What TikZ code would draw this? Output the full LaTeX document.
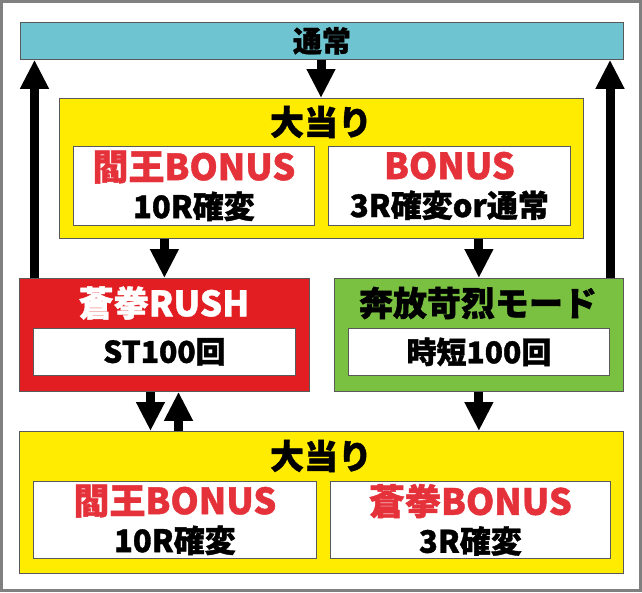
\documentclass[tikz,border=0pt]{standalone}
\usepackage{fontspec}
\setmainfont{Noto Sans CJK JP}[BoldFeatures={FakeBold=1.2}]
\usetikzlibrary{arrows.meta}

\definecolor{barblue}{RGB}{110,196,208}
\definecolor{hityellow}{RGB}{255,236,0}
\definecolor{rushred}{RGB}{226,30,35}
\definecolor{modegreen}{RGB}{122,193,66}
\definecolor{bonusred}{RGB}{229,50,58}

\begin{document}
\begin{tikzpicture}[x=1pt, y=-1pt,
  box/.style={draw=black!65, line width=0.8pt, inner sep=0pt, anchor=north west},
  inbox/.style={box, fill=white, align=center, font={\bfseries\fontsize{31}{38}\selectfont}},
  title/.style={inner sep=0pt, font={\bfseries\fontsize{34}{40}\selectfont}},
  arr/.style={line width=9pt, -{Triangle[width=27pt,length=29pt]}}]
  \useasboundingbox (0,0) rectangle (642,592);
  \draw[gray, line width=3pt] (1.5,1.5) rectangle (640.5,590.5);

  % 通常
  \node[box, fill=barblue, minimum width=603pt, minimum height=37pt,
        font={\bfseries\fontsize{29}{34}\selectfont}] (normal) at (20,22) {通常};

  % 上の大当り
  \node[box, fill=hityellow, minimum width=524pt, minimum height=140pt] (hitA) at (59,98) {};
  \node[title] (hitAlbl) at (321,122) {大当り};
  \node[inbox, minimum width=241pt, minimum height=79pt] (hitAl) at (73,146)
    {{\color{bonusred}\fontsize{36}{38}\selectfont 閻王BONUS}\\10R確変};
  \node[inbox, minimum width=242pt, minimum height=79pt] (hitAr) at (328,146)
    {{\color{bonusred}\fontsize{36}{38}\selectfont BONUS}\\3R確変or通常};

  % 蒼拳RUSH / 奔放苛烈モード
  \node[box, fill=rushred, minimum width=290pt, minimum height=113pt] (rush) at (19,278) {};
  \node[title, text=white, font={\bfseries\fontsize{35}{40}\selectfont}] (rushlbl) at (164,303) {蒼拳RUSH};
  \node[inbox, minimum width=262pt, minimum height=47pt,
        font={\bfseries\fontsize{30}{32}\selectfont}] (rushst) at (33,328) {ST100回};
  \node[box, fill=modegreen, minimum width=289pt, minimum height=113pt] (mode) at (334,278) {};
  \node[title] (modelbl) at (478,303) {奔放苛烈モード};
  \node[inbox, minimum width=261pt, minimum height=47pt,
        font={\bfseries\fontsize{30}{32}\selectfont}] (modejt) at (348,328) {時短100回};

  % 下の大当り
  \node[box, fill=hityellow, minimum width=604pt, minimum height=142pt] (hitB) at (19,431) {};
  \node[title] (hitBlbl) at (321,456) {大当り};
  \node[inbox, minimum width=283pt, minimum height=77pt] (hitBl) at (33,481)
    {{\color{bonusred}\fontsize{36}{38}\selectfont 閻王BONUS}\\10R確変};
  \node[inbox, minimum width=280pt, minimum height=77pt] (hitBr) at (330,481)
    {{\color{bonusred}\fontsize{36}{38}\selectfont 蒼拳BONUS}\\3R確変};

  \coordinate (leftup) at (34.5,0);
  \coordinate (rightup) at (610,0);
  \coordinate (rushdown) at (150.5,0);
  \coordinate (rushup) at (178.5,0);

  \draw[arr] (normal.south -| hitAlbl) -- (hitA.north -| hitAlbl);
  \draw[arr] (rush.north -| leftup) -- (normal.south -| leftup);
  \draw[arr] (mode.north -| rightup) -- (normal.south -| rightup);
  \draw[arr] (hitA.south -| rush.north) -- (rush.north);
  \draw[arr] (hitA.south -| mode.north) -- (mode.north);
  \draw[arr] (rush.south -| rushdown) -- (hitB.north -| rushdown);
  \draw[arr] (hitB.north -| rushup) -- (rush.south -| rushup);
  \draw[arr] (mode.south) -- (hitB.north -| mode.south);
\end{tikzpicture}
\end{document}
